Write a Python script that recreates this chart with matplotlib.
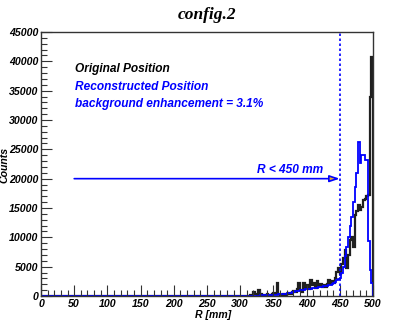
import numpy as np
import matplotlib
matplotlib.use("Agg")
import matplotlib.pyplot as plt
from matplotlib.ticker import MultipleLocator

# ---- data (2.5 mm bins, 0..500 mm; bins below 300 mm are empty) ----
bin_width = 2.5
r_min, r_max = 0.0, 500.0
zero_bins = 120  # 0 - 300 mm

original_counts = [
    0, 0, 0, 0, 0, 0, 200, 0,                              # 300-317.5
    600, 300, 0, 1000, 300, 0, 200, 0,                      # 320
    300, 100, 200, 300, 500, 400, 2200, 300,                # 340
    200, 100, 300, 200, 300, 500, 400, 700,                 # 360
    900, 600, 1200, 2200, 1000, 700, 2300, 1300,            # 380
    1800, 1200, 2700, 1800, 2200, 1400, 2500, 1700,         # 400
    2000, 1500, 1800, 1500, 2000, 2700, 2000, 2500,         # 420
    2300, 3000, 4100, 4700, 3800, 5500, 6400, 7800,         # 440
    4800, 7000, 9500, 10000, 8400, 13800, 14500, 15500,     # 460
    14700, 15200, 16400, 16500, 17000, 17200, 34000, 40800, # 480
]

reco_counts = [
    0, 0, 0, 0, 0, 0, 0, 0,
    30, 50, 60, 80, 90, 100, 110, 120,
    130, 140, 150, 170, 190, 210, 240, 270,
    300, 340, 380, 420, 470, 520, 580, 640,
    700, 770, 840, 900, 960, 1010, 1060, 1110,
    1160, 1200, 1250, 1290, 1330, 1370, 1420, 1460,
    1510, 1560, 1620, 1690, 1770, 1860, 1960, 2080,
    2220, 2400, 2650, 2850, 3100, 3900, 5000, 6800,
    8400, 10100, 12000, 13500, 16000, 18500, 21000, 26300,
    22700, 24000, 24000, 23200, 23200, 9300, 4500, 2300,
]

cut_r = 450
arrow_start = 50
arrow_level = 20000
title = "config.2"
legend_lines = ["Original Position", "Reconstructed Position",
                "background enhancement = 3.1%"]

# ---- figure ----
W, H = 415, 329
fig = plt.figure(figsize=(W / 100, H / 100), dpi=100)
ax = fig.add_axes([41 / W, 1 - 296 / H, 332 / W, 264 / H])

orig = np.array([0] * zero_bins + original_counts, dtype=float)
reco = np.array([0] * zero_bins + reco_counts, dtype=float)
edges = np.linspace(r_min, r_max, len(orig) + 1)

ax.stairs(orig, edges, color="#202020", lw=1.6)
ax.stairs(reco, edges, color="#0000ff", lw=1.3)

ax.axvline(cut_r, color="#0000ff", lw=1.2, ls=(0, (1.5, 1.5)))

ax.annotate("", xy=(cut_r, arrow_level), xytext=(arrow_start, arrow_level),
            arrowprops=dict(arrowstyle="-|>,head_length=0.6,head_width=0.2",
                            lw=1.2, ec="#0000ff", fc="#e0a830",
                            shrinkA=0, shrinkB=0))

ax.text(425, 20500, "R < 450 mm", color="#0000ff", ha="right", va="bottom",
        fontfamily="Liberation Sans", fontweight="bold", fontstyle="italic",
        fontsize=8.6)

colors = ["black", "#0000ff", "#0000ff"]
ys = [0.86, 0.793, 0.728]
for txt, c, yy in zip(legend_lines, colors, ys):
    ax.text(0.102, yy, txt, color=c, transform=ax.transAxes, ha="left",
            va="center", fontfamily="Liberation Sans", fontweight="bold",
            fontstyle="italic", fontsize=8.6)

ax.set_xlim(r_min, r_max)
ax.set_ylim(0, 45000)
ax.xaxis.set_major_locator(MultipleLocator(50))
ax.xaxis.set_minor_locator(MultipleLocator(10))
ax.yaxis.set_major_locator(MultipleLocator(5000))
ax.yaxis.set_minor_locator(MultipleLocator(1000))
ax.tick_params(which="both", direction="in", top=False, right=False,
               labelsize=7.6, pad=2, color="#333333")
ax.tick_params(which="major", length=8, width=0.8)
ax.tick_params(which="minor", length=4, width=0.8)
for lab in ax.get_xticklabels() + ax.get_yticklabels():
    lab.set_fontfamily("Liberation Sans")
    lab.set_fontweight("bold")
    lab.set_fontstyle("italic")
for s in ax.spines.values():
    s.set_linewidth(1.0)
    s.set_color("#333333")

fig.text(207 / W, 1 - 15 / H, title, ha="center", va="center",
         fontfamily="Liberation Serif", fontweight="bold", fontstyle="italic",
         fontsize=12.5)
fig.text(213 / W, 1 - 315 / H, "R [mm]", ha="center", va="center",
         fontfamily="Liberation Sans", fontweight="bold", fontstyle="italic",
         fontsize=7.6)
fig.text(4.5 / W, 1 - 165 / H, "Counts", ha="center", va="center", rotation=90,
         fontfamily="Liberation Sans", fontweight="bold", fontstyle="italic",
         fontsize=7.6)

fig.savefig("out.png", dpi=100, facecolor="white")
